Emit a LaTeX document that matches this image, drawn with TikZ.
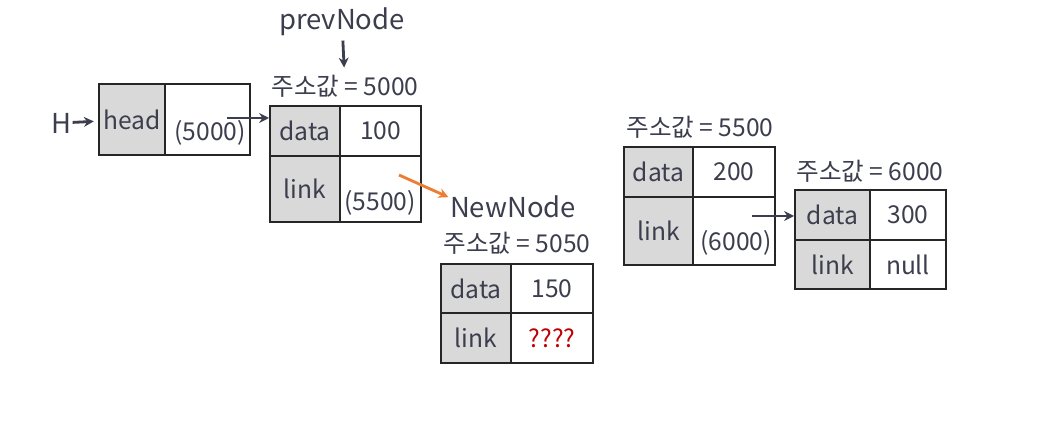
\documentclass[tikz,border=0pt]{standalone}
\usepackage{fontspec}
\setmainfont{Noto Sans CJK KR}
\usetikzlibrary{arrows.meta}
\definecolor{ink}{HTML}{3C3E4E}
\definecolor{cellgray}{HTML}{D9D9D9}
\definecolor{linkorange}{HTML}{ED7D31}
\definecolor{qred}{HTML}{C00000}
\newcommand{\cellfont}{\fontsize{17.5}{19}\selectfont}
\newcommand{\namefont}{\fontsize{19.5}{21}\selectfont}

\begin{document}
\begin{tikzpicture}[x=0.025cm, y=-0.025cm, >={Stealth[length=7pt,width=7pt]},
  cell/.style={draw=black!85, line width=1.4pt, inner sep=0pt, text=ink, font=\cellfont},
  key/.style={cell, fill=cellgray},
  txt/.style={text=ink, inner sep=1pt, font=\cellfont},
  ptr/.style={->, draw=ink, line width=2pt}]
\useasboundingbox (0,0) rectangle (1055,425);

% head
\node[txt, font=\namefont] (H) at (61,123) {H};
\node[key, minimum width=1.65cm, minimum height=1.775cm] (headkey) at (132,119.5) {head};
\node[cell, minimum width=2.125cm, minimum height=1.775cm] (headptr) at (207.5,119.5) {};
\node[txt] (headval) at (210,133) {(5000)};

% prevNode (5000)
\node[txt, font=\namefont] (prev) at (342,22) {prevNode};
\node[txt] (addr1) at (345,86) {주소값 = 5000};
\node[key, minimum width=1.75cm, minimum height=1.25cm] (d1k) at (305,131) {data};
\node[cell, minimum width=2.025cm, minimum height=1.25cm] (d1v) at (380.5,131) {100};
\node[key, minimum width=1.75cm, minimum height=1.65cm] (l1k) at (305,189) {link};
\node[cell, minimum width=2.025cm, minimum height=1.65cm] (l1v) at (380.5,189) {};
\node[txt] (l1val) at (380,203) {(5500)};

% NewNode (5050)
\node[txt, font=\namefont] (newlbl) at (513,207) {NewNode};
\node[txt] (addr2) at (517,243) {주소값 = 5050};
\node[key, minimum width=1.75cm, minimum height=1.225cm] (d2k) at (476,288.5) {data};
\node[cell, minimum width=2.05cm, minimum height=1.225cm] (d2v) at (552,288.5) {150};
\node[key, minimum width=1.75cm, minimum height=1.25cm] (l2k) at (476,338) {link};
\node[cell, minimum width=2.05cm, minimum height=1.25cm, text=qred] (l2v) at (552,338) {????};

% node (5500)
\node[txt] (addr3) at (700,127) {주소값 = 5500};
\node[key, minimum width=1.725cm, minimum height=1.25cm] (d3k) at (658.5,172) {data};
\node[cell, minimum width=2.05cm, minimum height=1.25cm] (d3v) at (734,172) {200};
\node[key, minimum width=1.725cm, minimum height=1.7cm] (l3k) at (658.5,231) {link};
\node[cell, minimum width=2.05cm, minimum height=1.7cm] (l3v) at (734,231) {};
\node[txt] (l3val) at (736,243) {(6000)};

% node (6000)
\node[txt] (addr4) at (870,171) {주소값 = 6000};
\node[key, minimum width=1.875cm, minimum height=1.25cm] (d4k) at (832.5,215) {data};
\node[cell, minimum width=1.9cm, minimum height=1.25cm] (d4v) at (908,215) {300};
\node[key, minimum width=1.875cm, minimum height=1.225cm] (l4k) at (832.5,264.5) {link};
\node[cell, minimum width=1.9cm, minimum height=1.225cm] (l4v) at (908,264.5) {null};

% pointers
\draw[ptr, shorten >=3pt] (H) -- (headkey);
\coordinate (h0) at (227,118);
\draw[ptr] (h0) -- (h0 -| d1k.west);
\draw[ptr, shorten <=2pt, shorten >=4pt] (prev) -- (addr1);
\coordinate (o0) at (399,175);
\draw[->, draw=linkorange, line width=2pt] (o0) -- ([yshift=7pt]newlbl.west);
\coordinate (c0) at (752,216);
\draw[ptr] (c0) -- (c0 -| d4k.west);
\end{tikzpicture}
\end{document}
